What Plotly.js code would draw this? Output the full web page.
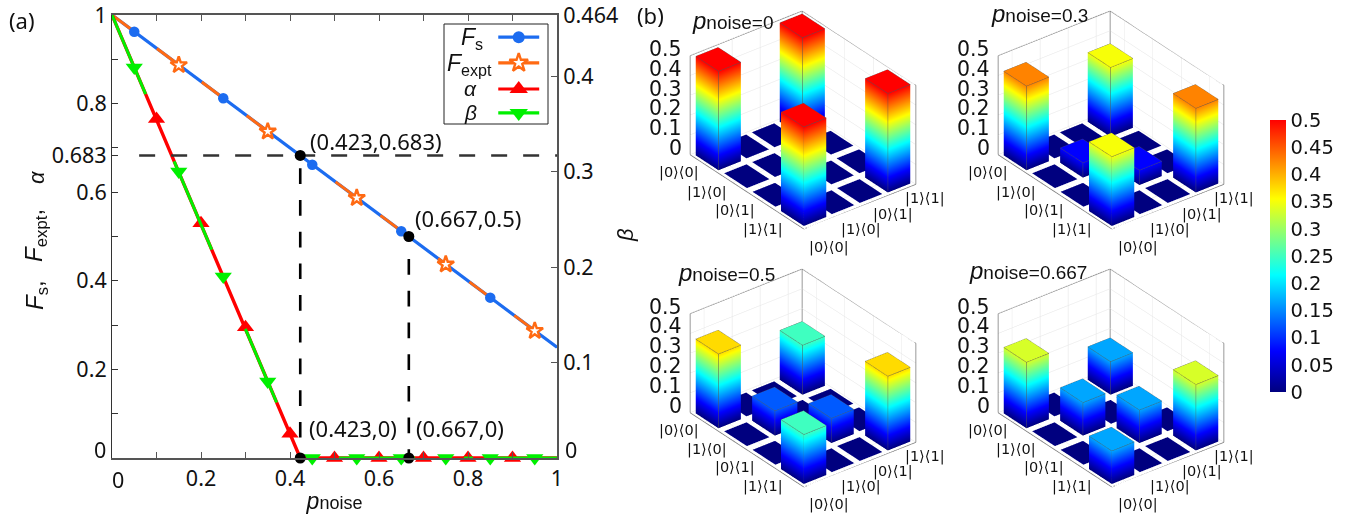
<!DOCTYPE html>
<html><head><meta charset="utf-8">
<script src="https://cdn.plot.ly/plotly-3.0.1.min.js"></script>
<style>html,body{margin:0;padding:0;background:#fff}#c{width:1366px;height:519px}</style>
</head><body><div id="c"></div>
<script>
// ---------- panel (a) data ----------
const lineP      = [0, 1];
const fsLine     = [1, 0.25];
const fexptLine  = [1, 0.25];
const kinkP      = [0, 0.423, 1];
const alphaLine  = [1, 0, 0];
const betaLine   = [0.464, 0, 0];
const fsP        = [0.05, 0.25, 0.45, 0.65, 0.85];
const fsVal      = [0.962, 0.812, 0.662, 0.512, 0.362];
const fexptP     = [0.15, 0.35, 0.55, 0.75, 0.95];
const fexptVal   = [0.887, 0.737, 0.587, 0.437, 0.287];
const alphaP     = [0.1, 0.2, 0.3, 0.4, 0.5, 0.6, 0.7, 0.8, 0.9];
const alphaVal   = [0.765, 0.53, 0.295, 0.055, 0, 0, 0, 0, 0];
const betaP      = [0.05, 0.15, 0.25, 0.35, 0.45, 0.55, 0.65, 0.75, 0.85, 0.95];
const betaVal    = [0.409, 0.3, 0.19, 0.08, 0, 0, 0, 0, 0, 0];
const dotP       = [0.423, 0.667, 0.423, 0.667];
const dotVal     = [0.683, 0.5, 0, 0];
const dotLabels  = ['(0.423,0.683)', '(0.667,0.5)', '(0.423,0)', '(0.667,0)'];
const yTickVals  = [0,0.1,0.2,0.3,0.4,0.5,0.6,0.683,0.7,0.8,0.9,1];
const yTickText  = ['','','0.2','','0.4','','0.6','0.683','','0.8','','1'];
const y2TickVals = [0,0.1,0.2,0.3,0.4,0.464];
const y2TickText = ['','0.1','0.2','0.3','0.4','0.464'];
const xTickVals  = [0,0.1,0.2,0.3,0.4,0.5,0.6,0.7,0.8,0.9,1];
const xTickText  = ['','','0.2','','0.4','','0.6','','0.8','','1'];
// ---------- panel (b) data ----------
const basisLeft  = ['|0⟩⟨0|','|1⟩⟨0|','|0⟩⟨1|','|1⟩⟨1|'];
const basisRight = ['|0⟩⟨0|','|1⟩⟨0|','|0⟩⟨1|','|1⟩⟨1|'];
const zTicks     = [0,0.1,0.2,0.3,0.4,0.5];
const noiseNames = ['0','0.3','0.5','0.667'];
const rho0   = [[0.5,0,0,0.5],[0,0,0,0],[0,0,0,0],[0.5,0,0,0.5]];
const rho03  = [[0.425,0,0,0.35],[0,0.075,0,0],[0,0,0.075,0],[0.35,0,0,0.425]];
const rho05  = [[0.375,0,0,0.25],[0,0.125,0,0],[0,0,0.125,0],[0.25,0,0,0.375]];
const rho067 = [[0.333,0,0,0.167],[0,0.167,0,0],[0,0,0.167,0],[0.167,0,0,0.333]];
const cbTicks = [0,0.05,0.1,0.15,0.2,0.25,0.3,0.35,0.4,0.45,0.5];

const W=1366,H=519;
const px=v=>v/W, py=v=>1-v/H;
const noto='"Noto Sans",sans-serif';
const sans='"Liberation Sans",Arial,sans-serif';
const deja='"DejaVu Sans",sans-serif';
const BLUE='#1c6cf0',ORANGE='#ff6a13',RED='#ff0000',GREEN='#00f000';
const AX='#555555';

const traces=[];
traces.push({name:'Fs line',x:lineP,y:fsLine,mode:'lines',line:{color:BLUE,width:3.2},showlegend:false});
traces.push({name:'Fexpt line',x:lineP,y:fexptLine,mode:'lines',line:{color:ORANGE,width:3,dash:'28px,28px,28px,28px,28px,28px,28px,83px,28px,28px,28px,44px,11px,28px,28px,28px,28px,100px'},showlegend:false});
traces.push({name:'α line',x:kinkP,y:alphaLine,mode:'lines',line:{color:RED,width:3.4},showlegend:false});
traces.push({name:'β line',x:kinkP,y:betaLine,yaxis:'y2',mode:'lines',line:{color:GREEN,width:3,dash:'86px,73px,96px,86px,80px,99px,76px,49px,9px,22px,62px,100px'},showlegend:false});
traces.push({name:'Fs',x:fsP,y:fsVal,mode:'markers',marker:{symbol:'circle',size:10.5,color:BLUE},cliponaxis:false,showlegend:false});
traces.push({name:'Fexpt',x:fexptP,y:fexptVal,mode:'markers',marker:{symbol:'star',size:12.5,color:'#fff',line:{color:ORANGE,width:2.4}},cliponaxis:false,showlegend:false});
traces.push({name:'α',x:alphaP,y:alphaVal,mode:'markers',marker:{symbol:'triangle-up',size:15,color:RED},cliponaxis:false,showlegend:false});
traces.push({name:'β',x:betaP,y:betaVal,yaxis:'y2',mode:'markers',marker:{symbol:'triangle-down',size:15,color:GREEN},cliponaxis:false,showlegend:false});
traces.push({name:'guide h',x:[0.061,1],y:[0.683,0.683],yaxis:'y3',mode:'lines',line:{color:'#333',width:2.4,dash:'16px,16px'},showlegend:false});
traces.push({name:'guide v1',x:[0.423,0.423],y:[0.654,0],yaxis:'y3',mode:'lines',line:{color:'#000',width:2.6,dash:'15.7px,16px'},showlegend:false});
traces.push({name:'guide v2',x:[0.667,0.667],y:[0.449,0],yaxis:'y3',mode:'lines',line:{color:'#000',width:2.6,dash:'15.7px,16px'},showlegend:false});
traces.push({name:'points',x:dotP,y:dotVal,yaxis:'y3',mode:'markers',marker:{symbol:'circle',size:11,color:'#000'},cliponaxis:false,showlegend:false});
const legX=[0.868,0.96];
const legY=[0.95,0.892,0.833,0.779];
const legMid=(legX[0]+legX[1])/2;
[[BLUE,{symbol:'circle',size:12,color:BLUE}],
 [ORANGE,{symbol:'star',size:14,color:'#fff',line:{color:ORANGE,width:2.4}}],
 [RED,{symbol:'triangle-up',size:16,color:RED}],
 [GREEN,{symbol:'triangle-down',size:16,color:GREEN}]].forEach((s,i)=>{
  traces.push({name:'legend line '+i,x:legX,y:[legY[i],legY[i]],yaxis:'y3',mode:'lines',line:{color:s[0],width:3.2},showlegend:false});
  traces.push({name:'legend mark '+i,x:[legMid],y:[legY[i]],yaxis:'y3',mode:'markers',marker:s[1],showlegend:false});
});

const jet=[[0,'#00007f'],[0.15,'#0000ff'],[0.43,'#00ffff'],[0.71,'#ffff00'],[1,'#ff0000']];
const FLOOR=0.004;
function barsMesh(m,scene,withBar){
  const X=[],Y=[],Z=[],I=[],J=[],K=[],V=[];
  const d=0.4;
  m.forEach((row,r)=>row.forEach((h,c)=>{
    const xc=r+1, yc=c+1, b=X.length;
    const xs=[xc-d,xc+d,xc+d,xc-d];
    const ys=[yc-d,yc-d,yc+d,yc+d];
    for(let q=0;q<4;q++){X.push(xs[q]);Y.push(ys[q]);Z.push(0);V.push(0);}
    for(let q=0;q<4;q++){X.push(xs[q]);Y.push(ys[q]);Z.push(Math.max(h,FLOOR));V.push(h);}
    I.push(b+4,b+4);J.push(b+5,b+6);K.push(b+6,b+7);
    if(h>0)for(let q=0;q<4;q++){const n=(q+1)%4;I.push(b+q,b+q);J.push(b+n,b+n+4);K.push(b+n+4,b+q+4);}
  }));
  const t={type:'mesh3d',scene,x:X,y:Y,z:Z,i:I,j:J,k:K,intensity:V,intensitymode:'vertex',cmin:0,cmax:0.5,colorscale:jet,
    flatshading:false,lighting:{ambient:1,diffuse:0,specular:0,fresnel:0,roughness:1},hoverinfo:'skip',showscale:!!withBar,name:'β bars'};
  if(withBar)t.colorbar={x:1270/W,xanchor:'left',y:py(256),yanchor:'middle',len:272,lenmode:'pixels',thickness:15.5,thicknessmode:'pixels',xpad:0,ypad:0,
    outlinewidth:0,ticks:'',tickvals:cbTicks,ticktext:cbTicks.map(String),tickfont:{family:deja,size:19.5,color:'#111'},ticklabelposition:'outside'};
  return t;
}
function edges(m,scene){
  const X=[],Y=[],Z=[];const d=0.4;
  m.forEach((row,r)=>row.forEach((h,c)=>{
    if(h<=0)return;
    const xc=r+1,yc=c+1;
    X.push(xc-d,xc+d,xc+d,xc-d,xc-d,null, xc+d,xc+d,null);
    Y.push(yc-d,yc-d,yc+d,yc+d,yc-d,null, yc-d,yc-d,null);
    Z.push(h,h,h,h,h,null, 0,h,null);
  }));
  return {type:'scatter3d',scene,x:X,y:Y,z:Z,mode:'lines',line:{color:'#555',width:1},hoverinfo:'skip',showlegend:false,name:'edges'};
}
function box(scene){
  const a=0.5,b=4.5,t=0.5;
  const X=[a,a,b,b,null,a,a,null, a,b,b,null,a,a];
  const Y=[a,b,b,b,null,b,b,null, a,a,b,null,a,a];
  const Z=[t,t,t,0,null,0,t,null, 0,0,0,null,0,t];
  return {type:'scatter3d',scene,x:X,y:Y,z:Z,mode:'lines',line:{color:'#777',width:1.5},hoverinfo:'skip',showlegend:false,name:'box'};
}
const matrices=[rho0,rho03,rho05,rho067];
const centers=[[802.5,120],[1111,120],[802.5,377.5],[1111,377.5]];
const SW=300,SH=240;
const az=52*Math.PI/180, el=30.7*Math.PI/180, R=1.31;
const eye={x:R*Math.cos(el)*Math.sin(az),y:-R*Math.cos(el)*Math.cos(az),z:R*Math.sin(el)};
const tickFont={family:noto,size:21.5,color:'#111'};
const layout={width:W,height:H,margin:{l:0,r:0,t:0,b:0},paper_bgcolor:'#fff',plot_bgcolor:'rgba(0,0,0,0)',showlegend:false,
 xaxis:{domain:[px(112),px(557)],range:[0,1],tickvals:xTickVals,ticktext:xTickText,ticks:'inside',ticklen:6,tickwidth:1,tickcolor:AX,linecolor:AX,linewidth:1.6,showline:true,mirror:'ticks',showgrid:false,zeroline:false,tickfont:tickFont,ticklabeloverflow:'allow',
   title:{text:'<span style="font-size:23px"><i>p</i></span>noise',font:{family:sans,size:18,color:'#111'},standoff:6},anchor:'y'},
 yaxis:{domain:[py(458),py(15)],range:[0,1],tickvals:yTickVals,ticktext:yTickText,ticks:'inside',ticklen:6,tickwidth:1,tickcolor:'#333',linecolor:'#333',linewidth:1,showline:true,showgrid:false,zeroline:false,tickfont:tickFont,ticklabeloverflow:'allow',title:{text:''},anchor:'x'},
 yaxis2:{domain:[py(458),py(15)],overlaying:'y',side:'right',range:[0,0.464],tickvals:y2TickVals,ticktext:y2TickText,ticks:'inside',ticklen:6,tickwidth:1,tickcolor:AX,linecolor:AX,linewidth:2,showline:true,showgrid:false,zeroline:false,tickfont:tickFont,ticklabeloverflow:'allow',anchor:'x'},
 yaxis3:{domain:[py(458),py(15)],overlaying:'y',range:[0,1],visible:false,anchor:'x'},
 shapes:[{type:'rect',xref:'paper',yref:'paper',x0:px(444),x1:px(548),y0:py(124),y1:py(24),line:{color:'#222',width:1},fillcolor:'#fff',layer:'below'}],
 annotations:[]
};
function note(text,x,y,font,opts){layout.annotations.push(Object.assign({text,xref:'paper',yref:'paper',x:px(x),y:py(y),xanchor:'center',yanchor:'middle',showarrow:false,font},opts||{}));}
const F22={family:noto,size:22,color:'#111'};
note('(a)',22,20,{family:noto,size:22,color:'#111'});
note('(b)',650,15,{family:noto,size:22,color:'#111'});
note(dotLabels[0],376,141,F22);
note(dotLabels[1],468,218,F22);
note(dotLabels[2],353,428,F22);
note(dotLabels[3],460,428,F22);
note('0',118,479,tickFont);
note('0',100,449,tickFont);
note('0',571,449,tickFont);
note('<i>F</i><sub>s</sub>,',36,295,{family:sans,size:24,color:'#111'},{textangle:-90});
note('<i>F</i><sub>expt</sub>,',36,236,{family:sans,size:24,color:'#111'},{textangle:-90});
note('<i>α</i>',36,177,{family:sans,size:22,color:'#111'},{textangle:-90});
note('<i>β</i>',625,235,{family:sans,size:22,color:'#111'},{textangle:-90});
note('<i>F</i><sub>s</sub>',472,38,{family:sans,size:23,color:'#111'});
note('<i>F</i><sub>expt</sub>',469,64,{family:sans,size:23,color:'#111'});
note('<i>α</i>',470,88,{family:sans,size:21,color:'#111'});
note('<i>β</i>',470,113,{family:sans,size:21,color:'#111'});

const titlePos=[[732,20],[1039,13],[726,272],[1028,270]];
const names=['scene','scene2','scene3','scene4'];
matrices.forEach((m,i)=>{
  const sc=names[i];
  traces.push(barsMesh(m,sc,i===0));
  traces.push(edges(m,sc));
  traces.push(box(sc));
  const [cx,cy]=centers[i];
  const base={showbackground:false,showgrid:true,gridcolor:'#e4e4e4',gridwidth:1,showline:false,zeroline:false,showticklabels:false,ticks:'',title:{text:''},showspikes:false};
  layout[sc]={domain:{x:[px(cx-SW/2),px(cx+SW/2)],y:[py(cy+SH/2),py(cy-SH/2)]},
    aspectmode:'manual',aspectratio:{x:1.54,y:1.185,z:0.96},
    camera:{eye,up:{x:0,y:0,z:1},center:{x:0,y:0,z:0},projection:{type:'orthographic'}},
    xaxis:Object.assign({},base,{range:[0.5,4.5],tickvals:[1,2,3,4]}),
    yaxis:Object.assign({},base,{range:[0.5,4.5],tickvals:[1,2,3,4]}),
    zaxis:Object.assign({},base,{range:[0,0.5],tickvals:zTicks})};
  const Fp={family:sans,size:19,color:'#111'};
  note('<span style="font-size:24px"><i>p</i></span>noise='+noiseNames[i],titlePos[i][0],titlePos[i][1],Fp);
  const Fz={family:deja,size:20.5,color:'#111'};
  zTicks.forEach((z,k)=>note(String(z),cx-119,cy+28-k*19.8,Fz,{xanchor:'right'}));
  const Ft={family:deja,size:14.5,color:'#111'};
  const lx=[-123.5,-95.5,-67.5,-39.5],ly=[53,72,90,109];
  const rx=[26.5,58.5,90.5,122.5],ry=[127,109,94,79];
  basisLeft.forEach((s,k)=>note(s,cx+lx[k],cy+ly[k],Ft));
  basisRight.forEach((s,k)=>note(s,cx+rx[k],cy+ry[k],Ft));
});
Plotly.newPlot('c',traces,layout,{displayModeBar:false});
</script></body></html>
